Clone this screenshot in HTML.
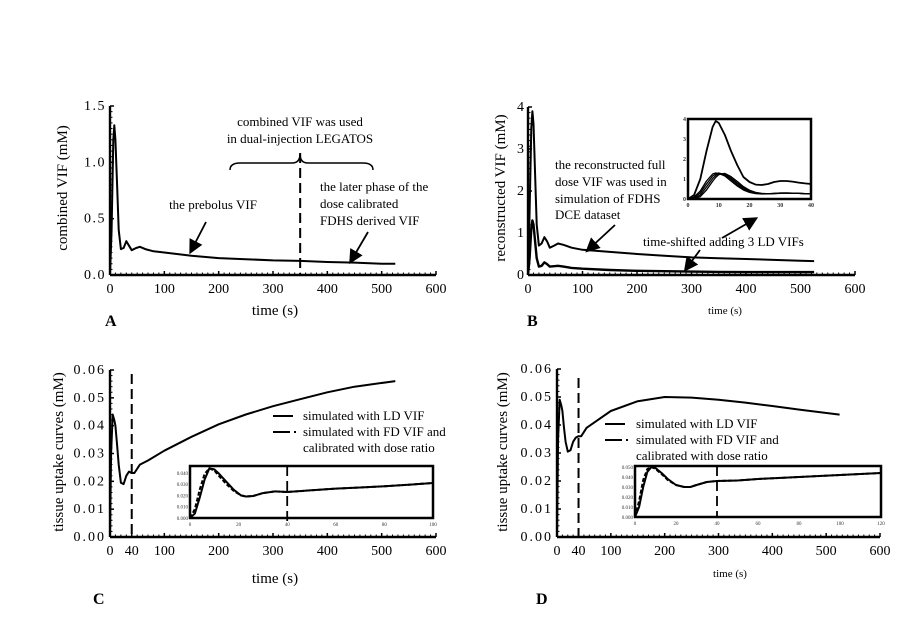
<!DOCTYPE html>
<html><head><meta charset="utf-8">
<style>
html,body{margin:0;padding:0;background:#fff;}
svg{display:block;font-family:"Liberation Serif",serif;}
</style></head>
<body>
<svg id="fig" width="918" height="640" viewBox="0 0 918 640" xmlns="http://www.w3.org/2000/svg">
<defs><marker id="ah" markerWidth="8" markerHeight="8" refX="6" refY="4" orient="auto"><path d="M0,0 L8,4 L0,8 Z" fill="#000"/></marker></defs>
<g id="static" fill="#000" font-size="13">
 <text x="300" y="126" text-anchor="middle">combined VIF was used</text>
 <text x="300" y="143" text-anchor="middle">in dual-injection LEGATOS</text>
 <path d="M230,170 Q230,163 240,163 L292,163 Q300,163 300,154 Q300,163 308,163 L363,163 Q373,163 373,170" fill="none" stroke="#000" stroke-width="1.5"/>
 <text x="213" y="209" text-anchor="middle">the prebolus VIF</text>
 <line x1="206" y1="222" x2="191" y2="251" stroke="#000" stroke-width="1.8" marker-end="url(#ah)"/>
 <text x="320" y="191">the later phase of the</text>
 <text x="320" y="208">dose calibrated</text>
 <text x="320" y="225">FDHS derived VIF</text>
 <line x1="368" y1="232" x2="351" y2="261" stroke="#000" stroke-width="1.8" marker-end="url(#ah)"/>
 <text x="275" y="315" text-anchor="middle" font-size="15">time (s)</text>
 <text transform="translate(67,188) rotate(-90)" text-anchor="middle" font-size="15">combined VIF (mM)</text>
 <text x="105" y="326" font-size="16" font-weight="bold">A</text>
 <text x="555" y="169">the reconstructed full</text>
 <text x="555" y="186">dose VIF was used in</text>
 <text x="555" y="203">simulation of FDHS</text>
 <text x="555" y="219">DCE dataset</text>
 <line x1="615" y1="225" x2="588" y2="250" stroke="#000" stroke-width="1.8" marker-end="url(#ah)"/>
 <text x="643" y="246">time-shifted adding 3 LD VIFs</text>
 <line x1="700" y1="250" x2="686" y2="269" stroke="#000" stroke-width="1.8" marker-end="url(#ah)"/>
 <line x1="722" y1="238" x2="755" y2="219" stroke="#000" stroke-width="1.8" marker-end="url(#ah)"/>
 <text x="725" y="314" text-anchor="middle" font-size="11">time (s)</text>
 <text transform="translate(505,188) rotate(-90)" text-anchor="middle" font-size="15">reconstructed VIF (mM)</text>
 <text x="527" y="326" font-size="16" font-weight="bold">B</text>
 <line x1="273" y1="416" x2="293" y2="416" stroke="#000" stroke-width="2"/>
 <text x="303" y="420">simulated with LD VIF</text>
 <line x1="273" y1="432" x2="290" y2="432" stroke="#000" stroke-width="2"/>
 <line x1="294" y1="432" x2="296" y2="432" stroke="#000" stroke-width="2"/>
 <text x="303" y="436">simulated with FD VIF and</text>
 <text x="303" y="452">calibrated with dose ratio</text>
 <text x="275" y="583" text-anchor="middle" font-size="15">time (s)</text>
 <text transform="translate(63,452) rotate(-90)" text-anchor="middle" font-size="15">tissue uptake curves  (mM)</text>
 <text x="93" y="604" font-size="16" font-weight="bold">C</text>
 <line x1="605" y1="424" x2="625" y2="424" stroke="#000" stroke-width="2"/>
 <text x="636" y="428">simulated with LD VIF</text>
 <line x1="605" y1="440" x2="622" y2="440" stroke="#000" stroke-width="2"/>
 <line x1="626" y1="440" x2="628" y2="440" stroke="#000" stroke-width="2"/>
 <text x="636" y="444">simulated with FD VIF and</text>
 <text x="636" y="460">calibrated with dose ratio</text>
 <text x="730" y="577" text-anchor="middle" font-size="11">time (s)</text>
 <text transform="translate(507,452) rotate(-90)" text-anchor="middle" font-size="15">tissue uptake curves  (mM)</text>
 <text x="536" y="604" font-size="16" font-weight="bold">D</text>
</g>
<g id="plots"></g>
</svg>
<script>
// Panel A data
const aTime = [0,3,6,8,10,13,16,20,25,30,35,40,48,55,65,80,100,150,200,250,300,350,400,450,500,525];
const aVif  = [0,0.4,1.2,1.33,1.2,0.8,0.4,0.23,0.24,0.3,0.26,0.22,0.24,0.25,0.23,0.21,0.2,0.17,0.15,0.14,0.13,0.125,0.115,0.11,0.1,0.1];
const aXTicks = [0,100,200,300,400,500,600];
const aYTicks = [0.0,0.5,1.0,1.5];
const aYLabels = ["0.0","0.5","1.0","1.5"];
const aMarker = [350];
// Panel B data
const bTime = [0,3,6,8,10,13,16,20,25,30,35,40,48,55,65,80,100,150,200,250,300,350,400,450,500,525];
const bFull = [0,1.5,3.5,3.9,3.6,2.4,1.2,0.7,0.75,0.9,0.8,0.65,0.7,0.75,0.72,0.65,0.6,0.55,0.5,0.46,0.42,0.4,0.38,0.36,0.34,0.33];
const bLd   = [0,0.4,1.1,1.3,1.2,0.8,0.4,0.2,0.22,0.3,0.26,0.2,0.21,0.22,0.2,0.17,0.15,0.12,0.1,0.09,0.08,0.075,0.07,0.07,0.07,0.07];
const bXTicks = [0,100,200,300,400,500,600];
const bYTicks = [0,1,2,3,4];
const bInsetTime = [0,2,4,6,8,9,10,12,14,16,18,20,22,24,26,28,30,32,34,36,38,40];
const bInsetFull = [0,0.2,1.0,2.4,3.6,3.9,3.8,3.2,2.4,1.7,1.1,0.85,0.72,0.7,0.75,0.85,0.9,0.9,0.87,0.82,0.78,0.75];
const bInsetLd = [
 [0,0.1,0.4,0.9,1.25,1.3,1.28,1.15,0.9,0.65,0.45,0.33,0.27,0.25,0.26,0.28,0.3,0.3,0.29,0.28,0.27,0.26],
 [0,0.05,0.3,0.75,1.15,1.25,1.3,1.2,0.98,0.72,0.5,0.36,0.29,0.26,0.26,0.28,0.3,0.3,0.29,0.28,0.27,0.26],
 [0,0.02,0.2,0.6,1.02,1.18,1.28,1.25,1.05,0.8,0.56,0.4,0.31,0.27,0.26,0.27,0.29,0.3,0.29,0.28,0.27,0.26],
 [0,0.01,0.12,0.45,0.88,1.08,1.22,1.28,1.12,0.88,0.62,0.44,0.33,0.28,0.26,0.27,0.28,0.29,0.29,0.28,0.27,0.26]
];
const bInsetXTicks = [0,10,20,30,40];
const bInsetYTicks = [0,1,2,3,4];
// Panel C data
const cTime = [0,2,5,8,10,13,16,20,25,30,35,40,45,55,70,100,150,200,250,300,350,400,450,525];
const cUptake = [0,0.03,0.044,0.042,0.04,0.033,0.026,0.0195,0.019,0.022,0.0235,0.023,0.023,0.026,0.0275,0.031,0.036,0.0405,0.044,0.047,0.0495,0.052,0.054,0.056];
const cXTicks = [0,40,100,200,300,400,500,600];
const cXLabels = ["0","40","100","200","300","400","500","600"];
const cYTicks = [0,0.01,0.02,0.03,0.04,0.05,0.06];
const cMarker = [40];
const cInsetTime = [0,2,4,6,8,10,12,15,18,21,23,26,30,35,40,50,60,70,80,90,100];
const cInsetLd = [0,0.004,0.018,0.034,0.044,0.043,0.039,0.032,0.025,0.02,0.019,0.0195,0.022,0.0235,0.023,0.0245,0.026,0.027,0.028,0.0295,0.031];
const cInsetFd = [0,0.008,0.025,0.039,0.044,0.042,0.037,0.030,0.024,0.02,0.019,0.0195,0.022,0.0235,0.023,0.0245,0.026,0.027,0.028,0.0295,0.031];
// Panel D data
const dTime = [0,2,5,8,10,13,16,20,25,30,35,40,45,55,70,100,150,200,250,300,350,400,450,525];
const dUptake = [0,0.035,0.049,0.047,0.045,0.039,0.034,0.0305,0.031,0.034,0.0355,0.036,0.036,0.039,0.041,0.045,0.0485,0.05,0.0498,0.049,0.048,0.0468,0.0455,0.0437];
const dXTicks = [0,40,100,200,300,400,500,600];
const dXLabels = ["0","40","100","200","300","400","500","600"];
const dYTicks = [0,0.01,0.02,0.03,0.04,0.05,0.06];
const dMarker = [40];
const dInsetTime = [0,2,4,6,8,10,13,16,20,24,27,30,35,40,50,60,70,80,90,100,110,120];
const dInsetLd = [0,0.01,0.03,0.045,0.05,0.049,0.044,0.038,0.032,0.03,0.03,0.032,0.035,0.036,0.0365,0.038,0.039,0.04,0.041,0.042,0.043,0.044];
const dInsetFd = [0,0.016,0.037,0.048,0.05,0.048,0.043,0.037,0.032,0.03,0.03,0.032,0.035,0.036,0.0365,0.038,0.039,0.04,0.041,0.042,0.043,0.044];

const NS = "http://www.w3.org/2000/svg";
const root = document.getElementById('plots');
function mk(tag, attrs, parent){ const e=document.createElementNS(NS,tag); for(const k in attrs) e.setAttribute(k,attrs[k]); (parent||root).appendChild(e); return e; }
function scale(d0,d1,r0,r1){ return v => r0+(v-d0)/(d1-d0)*(r1-r0); }
function pathOf(xs,ys,X,Y){ return xs.map((t,i)=>(i?'L':'M')+X(t).toFixed(1)+','+Y(ys[i]).toFixed(1)).join(' '); }

function axes(p){
  const g = mk('g',{});
  
  
  const X=p.X, Y=p.Y;
  const x0=X(p.xd[0]), x1=X(p.xd[1]), y0=Y(p.yd[0]), y1=Y(p.yd[1]);
  mk('line',{x1:x0,y1:y0,x2:x1,y2:y0,stroke:'#000','stroke-width':2.4},g);
  mk('line',{x1:x0,y1:y0,x2:x0,y2:y1,stroke:'#000','stroke-width':2.4},g);
  for(let i=0;i<=60;i++){ const x=x0+(x1-x0)*i/60; mk('line',{x1:x,y1:y0,x2:x,y2:y0-2.5,stroke:'#000','stroke-width':1},g); }
  for(let i=0;i<=30;i++){ const y=y0+(y1-y0)*i/30; mk('line',{x1:x0,y1:y,x2:x0+2.5,y2:y,stroke:'#000','stroke-width':1},g); }
  p.xt.forEach((v,i)=>{
    const t=mk('text',{x:X(v),y:y0+18,'text-anchor':'middle','font-size':14},g);
    
    
    t.textContent = p.xl ? p.xl[i] : String(v);
    mk('line',{x1:X(v),y1:y0,x2:X(v),y2:y0-4,stroke:'#000','stroke-width':1.5},g);
  });
  p.yt.forEach((v,i)=>{
    const t=mk('text',{x:x0-4,y:Y(v)+4,'text-anchor':'end','font-size':14,'letter-spacing':p.ls||0},g);
    
    
    t.textContent = p.yl ? p.yl[i] : (p.dec!=null? v.toFixed(p.dec): String(v));
    mk('line',{x1:x0,y1:Y(v),x2:x0+4,y2:Y(v),stroke:'#000','stroke-width':1.5},g);
  });
  return g;
}
function series(name, xs, ys, X, Y, w, dash){
  const e = mk('path',{d:pathOf(xs,ys,X,Y),fill:'none',stroke:'#000','stroke-width':w||1.8,'stroke-linejoin':'round'});
  if(dash) e.setAttribute('stroke-dasharray',dash);
  
  
  return e;
}
function vline(name, v, X, yTop, yBot, w){
  const e = mk('line',{x1:X(v),x2:X(v),y1:yTop,y2:yBot,stroke:'#000','stroke-width':w||2,'stroke-dasharray':'10,5'});
  
  
}
function box(name,x0,y0,x1,y1){
  const e = mk('rect',{x:x0,y:y0,width:x1-x0,height:y1-y0,fill:'#fff',stroke:'#000','stroke-width':2.5});
  
  
}
function tinyTicks(name,X,Y,xt,yt,x0,y0,dec,fs,bold){
  xt.forEach(v=>{ const t=mk('text',{x:X(v),y:y0+8,'text-anchor':'middle','font-size':fs||5,fill:'#333','font-weight':bold?'bold':'normal'});   t.textContent=String(v); });
  yt.forEach(v=>{ const t=mk('text',{x:x0-2,y:Y(v)+2,'text-anchor':'end','font-size':fs||5,fill:'#333','font-weight':bold?'bold':'normal'});   t.textContent=dec!=null?v.toFixed(dec):String(v); });
}

{ const X=scale(0,600,110,436), Y=scale(0,1.5,275,106);
  axes({name:'panel-a',X,Y,xd:[0,600],yd:[0,1.5],xt:aXTicks,yt:aYTicks,yl:aYLabels,ls:1.5});
  series('combined-vif-line',aTime,aVif,X,Y,2);
  vline('dashed-marker-a',aMarker[0],X,153,275,2); }
{ const X=scale(0,600,528,855), Y=scale(0,4,275,107);
  axes({name:'panel-b',X,Y,xd:[0,600],yd:[0,4],xt:bXTicks,yt:bYTicks});
  series('reconstructed-full-vif-line',bTime,bFull,X,Y,2);
  series('ld-vif-sum-line',bTime,bLd,X,Y,2.4);
  const ix0=688, ix1=811, iy0=199, iy1=119;
  box('inset-b-frame',ix0,iy1,ix1,iy0);
  const IX=scale(0,40,ix0,ix1), IY=scale(0,4,iy0,iy1);
  tinyTicks('inset-b',IX,IY,bInsetXTicks,bInsetYTicks,ix0,iy0,null,6,true);
  series('inset-b-full-line',bInsetTime,bInsetFull,IX,IY,1.8);
  bInsetLd.forEach((s,i)=>{ series('inset-b-ld-line-'+(i+1),bInsetTime,s,IX,IY,1.3); }); }
{ const X=scale(0,600,110,436), Y=scale(0,0.06,537,370);
  axes({name:'panel-c',X,Y,xd:[0,600],yd:[0,0.06],xt:cXTicks,xl:cXLabels,yt:cYTicks,dec:2,ls:2});
  series('uptake-ld-line-c',cTime,cUptake,X,Y,2);
  vline('dashed-marker-c',cMarker[0],X,374,537,2);
  const ix0=190, ix1=433, iy0=518, iy1=466;
  box('inset-c-frame',ix0,iy1,ix1,iy0);
  const IX=scale(0,100,ix0,ix1), IY=scale(0,0.046,iy0,iy1);
  tinyTicks('inset-c',IX,IY,[0,20,40,60,80,100],[0,0.01,0.02,0.03,0.04],ix0,iy0,3);
  series('inset-c-fd-line',cInsetTime,cInsetFd,IX,IY,2,'4,2');
  series('inset-c-ld-line',cInsetTime,cInsetLd,IX,IY,2);
  vline('inset-c-marker',cMarker[0],IX,iy1,iy0+6,1.8); }
{ const X=scale(0,600,557,880), Y=scale(0,0.06,537,369);
  axes({name:'panel-d',X,Y,xd:[0,600],yd:[0,0.06],xt:dXTicks,xl:dXLabels,yt:dYTicks,dec:2,ls:2});
  series('uptake-ld-line-d',dTime,dUptake,X,Y,2);
  vline('dashed-marker-d',dMarker[0],X,378,537,2);
  const ix0=635, ix1=881, iy0=517, iy1=466;
  box('inset-d-frame',ix0,iy1,ix1,iy0);
  const IX=scale(0,120,ix0,ix1), IY=scale(0,0.05,iy0,iy1+1);
  tinyTicks('inset-d',IX,IY,[0,20,40,60,80,100,120],[0,0.01,0.02,0.03,0.04,0.05],ix0,iy0,3);
  series('inset-d-fd-line',dInsetTime,dInsetFd,IX,IY,2,'4,2');
  series('inset-d-ld-line',dInsetTime,dInsetLd,IX,IY,2);
  vline('inset-d-marker',dMarker[0],IX,iy1,iy0,1.8); }
</script>
</body></html>
